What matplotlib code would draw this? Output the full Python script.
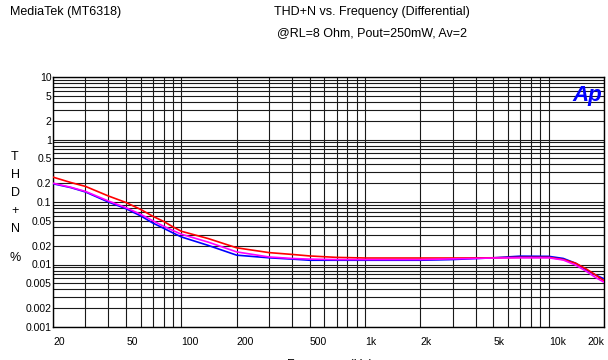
import matplotlib.pyplot as plt
from matplotlib.ticker import FixedLocator, LogLocator, NullFormatter

freq = [20, 25, 30, 40, 50, 60, 70, 80, 90, 100, 140, 200, 300, 400, 500, 700,
        1000, 2000, 3000, 5000, 7000, 10000, 12000, 14000, 16000, 18000, 20000]
red = [0.25, 0.205, 0.178, 0.125, 0.098, 0.076, 0.059, 0.049, 0.040, 0.034, 0.026,
       0.0185, 0.0155, 0.0145, 0.0137, 0.013, 0.0127, 0.0127, 0.0127, 0.0128, 0.013,
       0.013, 0.012, 0.0105, 0.0085, 0.0068, 0.0055]
magenta = [0.2, 0.172, 0.148, 0.104, 0.081, 0.0636, 0.05, 0.041, 0.035, 0.0305, 0.0228,
           0.0159, 0.0132, 0.0125, 0.0122, 0.012, 0.012, 0.012, 0.0123, 0.0127, 0.0128,
           0.0128, 0.0118, 0.0098, 0.0078, 0.0062, 0.0052]
blue = [0.196, 0.17, 0.145, 0.1, 0.078, 0.06, 0.046, 0.038, 0.032, 0.0276, 0.0202,
        0.0141, 0.0128, 0.0122, 0.0117, 0.0117, 0.0117, 0.0117, 0.012, 0.0128, 0.0136,
        0.0135, 0.0125, 0.0105, 0.0082, 0.0068, 0.0059]

xticks = [20, 50, 100, 200, 500, 1000, 2000, 5000, 10000, 20000]
xlabels = ['20', '50', '100', '200', '500', '1k', '2k', '5k', '10k', '20k']
yticks = [10, 5, 2, 1, 0.5, 0.2, 0.1, 0.05, 0.02, 0.01, 0.005, 0.002, 0.001]
ylabels = ['10', '5', '2', '1', '0.5', '0.2', '0.1', '0.05', '0.02', '0.01', '0.005', '0.002', '0.001']

plt.rcParams['font.family'] = ['Liberation Sans', 'DejaVu Sans']

fig = plt.figure(figsize=(6.08, 3.6), dpi=100)
ax = fig.add_axes([53 / 608, 1 - 327 / 360, 551 / 608, 250 / 360])

ax.plot(freq, blue, color='#0000ff', lw=1.2, zorder=3)
ax.plot(freq, red, color='#ff0000', lw=1.2, zorder=4)
ax.plot(freq, magenta, color='#ff00ff', lw=1.2, zorder=5)

ax.set_xscale('log')
ax.set_yscale('log')
ax.set_xlim(20, 20000)
ax.set_ylim(0.001, 10)

ax.xaxis.set_major_locator(FixedLocator(xticks))
ax.set_xticklabels(xlabels)
ax.xaxis.set_minor_locator(LogLocator(base=10, subs=range(2, 10), numticks=20))
ax.xaxis.set_minor_formatter(NullFormatter())
ax.yaxis.set_major_locator(FixedLocator(yticks))
ax.set_yticklabels(ylabels)
ax.yaxis.set_minor_locator(LogLocator(base=10, subs=range(2, 10), numticks=20))
ax.yaxis.set_minor_formatter(NullFormatter())

ax.grid(True, which='both', color='0.1', lw=0.8)
ax.tick_params(which='both', length=0, labelsize=7.5)
ax.tick_params(axis='x', pad=7)
ax.tick_params(axis='y', pad=1)
xl = ax.get_xticklabels()
for t in xl[:-1]:
    t.set_ha('left')
xl[-1].set_ha('right')
for s in ax.spines.values():
    s.set_color('black')
    s.set_linewidth(1)

fig.text(10 / 608, 1 - 12 / 360, 'MediaTek (MT6318)', fontsize=9, va='center', ha='left')
fig.text(372 / 608, 1 - 12 / 360, 'THD+N vs. Frequency (Differential)', fontsize=9,
         va='center', ha='center')
fig.text(372 / 608, 1 - 33 / 360, '@RL=8 Ohm, Pout=250mW, Av=2', fontsize=9,
         va='center', ha='center')

# stacked y label
for ch, yy in zip(['T', 'H', 'D', '+', 'N', '%'], [157, 175, 193, 211, 229, 258]):
    fig.text(15 / 608, 1 - yy / 360, ch, fontsize=9, va='center', ha='center')

fig.text(330 / 608, 1 - 368 / 360, 'Frequency (Hz)', fontsize=9, va='baseline', ha='center')

ax.text(0.997, 0.97, 'Ap', transform=ax.transAxes, color='#0000ff', fontsize=16,
        fontweight='bold', fontstyle='italic', ha='right', va='top', zorder=6)

fig.savefig('out.png', dpi=100)
